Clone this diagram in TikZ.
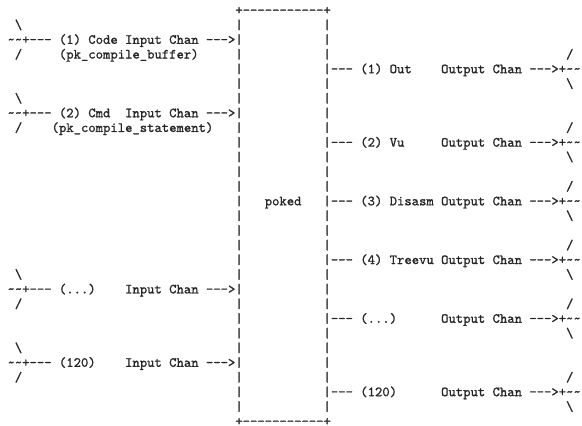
\documentclass[tikz,border=0pt]{standalone}
\usepackage{fontspec}
\setmonofont{lmmono10-regular.otf}[FakeBold=1.1]
\tikzset{
  txt/.style={anchor=base west, inner sep=0pt, outer sep=0pt, text=black!85,
    font=\ttfamily\fontsize{14}{14.68}\selectfont},
}
% name, column, row, text
\newcommand\putch[4]{\node[txt] (#1) at ({7.5+7.35*(#2)},{-14.5-14.68*(#3)}) {#4};}
\newcommand\tl{\textasciitilde\textasciitilde}
\newcommand\bs{\textbackslash}
\newcommand\tdots{...}
\begin{document}
\begin{tikzpicture}[x=1pt,y=1pt]
\useasboundingbox (0,0) rectangle (582,-426);
% box (poked)
\putch{boxtop}{31}{0}{+-----------+}
\putch{boxbot}{31}{28}{\smash{+-----------+}}
\foreach \r in {1,...,27}{
  \node[txt] (lb\r) at ({7.5+7.35*31},{-14.5-14.68*\r}) {|};
  \node[txt] (rb\r) at ({7.5+7.35*43},{-14.5-14.68*\r}) {|};
}
\putch{poked}{35}{13}{poked}
% inputs
\putch{ina1}{1}{1}{\bs}
\putch{inb1}{0}{2}{\tl+--- (1) Code Input Chan --->}
\putch{inc1}{1}{3}{/}
\putch{ind1}{7}{3}{(pk\_compile\_buffer)}
\putch{ina2}{1}{6}{\bs}
\putch{inb2}{0}{7}{\tl+--- (2) Cmd}
\putch{ine2}{16}{7}{Input Chan --->}
\putch{inc2}{1}{8}{/}
\putch{ind2}{6}{8}{(pk\_compile\_statement)}
\putch{ina3}{1}{18}{\bs}
\putch{inb3}{0}{19}{\tl+--- (\tdots)}
\putch{ine3}{16}{19}{Input Chan --->}
\putch{inc3}{1}{20}{/}
\putch{ina4}{1}{23}{\bs}
\putch{inb4}{0}{24}{\tl+--- (120)}
\putch{ine4}{16}{24}{Input Chan --->}
\putch{inc4}{1}{25}{/}
% outputs
\foreach \n/\r/\lab in {1/4/(1) Out, 2/9/(2) Vu, 3/13/(3) Disasm, 4/17/(4) Treevu, 5/21/(\tdots), 6/26/(120)}{
  \pgfmathtruncatemacro\ra{\r-1}
  \pgfmathtruncatemacro\rb{\r+1}
  \node[txt] (outa\n) at ({7.5+7.35*76},{-14.5-14.68*\ra}) {/};
  \node[txt] (outb\n) at ({7.5+7.35*44},{-14.5-14.68*\r}) {--- \lab};
  \node[txt] (outc\n) at ({7.5+7.35*59},{-14.5-14.68*\r}) {Output Chan --->+\tl};
  \node[txt] (outd\n) at ({7.5+7.35*76},{-14.5-14.68*\rb}) {\bs};
}
\end{tikzpicture}
\end{document}
